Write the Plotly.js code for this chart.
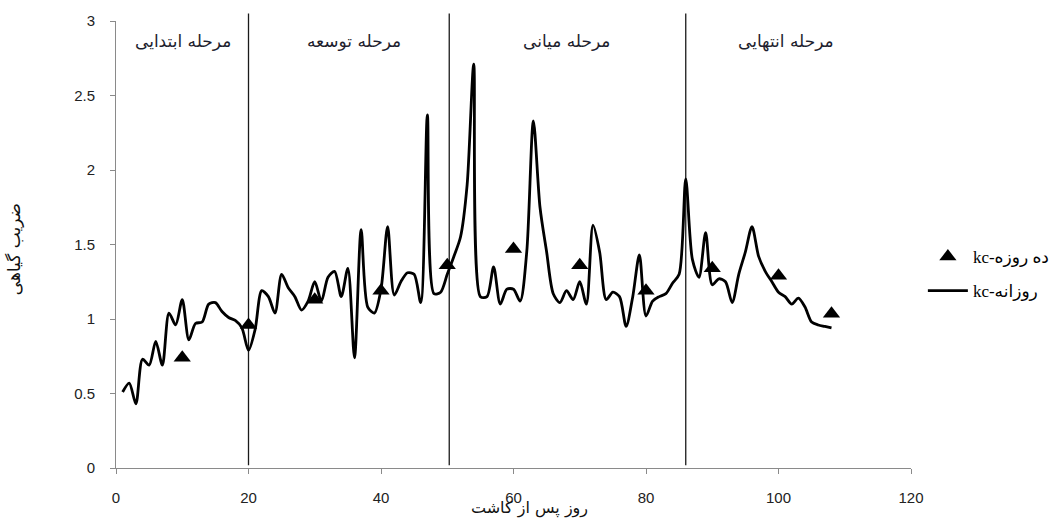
<!DOCTYPE html>
<html>
<head>
<meta charset="utf-8">
<script src="https://cdn.plot.ly/plotly-3.0.1.min.js"></script>
<style>html,body{margin:0;padding:0;background:#fff;}#chart{width:1062px;height:521px;}</style>
</head>
<body>
<div id="chart"></div>
<script>
// daily kc (days after planting 1..108)
const dailyDays = [];
for (let d = 1; d <= 108; d++) dailyDays.push(d);
const dailyKc = [
  0.51, 0.57, 0.43, 0.73, 0.69, 0.85, 0.69, 1.04, 0.96, 1.13,
  0.86, 0.97, 0.98, 1.10, 1.11, 1.05, 1.01, 0.99, 0.94, 0.79,
  0.93, 1.19, 1.15, 1.04, 1.30, 1.21, 1.15, 1.06, 1.12, 1.25,
  1.12, 1.28, 1.32, 1.15, 1.34, 0.74, 1.60, 1.08, 1.04, 1.20,
  1.62, 1.16, 1.25, 1.31, 1.30, 1.11, 2.37, 1.17, 1.18, 1.30,
  1.42, 1.55, 1.90, 2.71, 1.15, 1.15, 1.35, 1.10, 1.20, 1.20,
  1.12, 1.45, 2.33, 1.75, 1.45, 1.17, 1.11, 1.19, 1.13, 1.25,
  1.10, 1.63, 1.45, 1.13, 1.18, 1.15, 0.95, 1.15, 1.43, 1.02,
  1.12, 1.15, 1.17, 1.24, 1.30, 1.94, 1.40, 1.28, 1.58, 1.23,
  1.27, 1.25, 1.11, 1.30, 1.45, 1.62, 1.42, 1.32, 1.25, 1.18,
  1.15, 1.10, 1.14, 1.08, 0.98, 0.96, 0.95, 0.94
];
// ten-day kc
const tenDayDays = [10, 20, 30, 40, 50, 60, 70, 80, 90, 100, 108];
const tenDayKc = [0.74, 0.96, 1.13, 1.19, 1.36, 1.47, 1.36, 1.19, 1.34, 1.29, 1.035];
// growth stages
const stageBounds = [20, 50.3, 86];
const stageNames = ['مرحله ابتدایی', 'مرحله توسعه', 'مرحله میانی', 'مرحله انتهایی'];
const stageLabelX = [10.15, 35.95, 67.98, 101.06];
const seriesNames = ['kc-ده روزه', 'kc-روزانه'];
const xTitle = 'روز پس از کاشت';
const yTitle = 'ضریب گیاهی';
const xTicks = [0, 20, 40, 60, 80, 100, 120];
const yTicks = [0, 0.5, 1, 1.5, 2, 2.5, 3];
const yTickText = ['0', '0.5', '1', '1.5', '2', '2.5', '3'];

const persianFont = 'DejaVu Sans, sans-serif';

const traces = [
  {
    x: dailyDays, y: dailyKc, type: 'scatter', mode: 'lines',
    name: seriesNames[1], legendgroup: 'b', legendrank: 2,
    line: {color: '#000', width: 2.8, shape: 'spline', smoothing: 0.8},
    hoverinfo: 'x+y'
  },
  {
    x: tenDayDays, y: tenDayKc, type: 'scatter', mode: 'markers',
    name: seriesNames[0], legendgroup: 'a', legendrank: 1,
    marker: {symbol: 'triangle-up', size: 15, color: '#000'},
    cliponaxis: false
  }
];

const shapes = stageBounds.map(b => ({
  type: 'line', xref: 'x', yref: 'paper', x0: b, x1: b, y0: 0.006, y1: 1.017,
  line: {color: '#1a1a1a', width: 1.3}, layer: 'below'
}));

const annotations = stageNames.map((s, i) => ({
  x: stageLabelX[i], y: 2.865, xref: 'x', yref: 'y', text: s, showarrow: false,
  font: {family: persianFont, size: 17, color: '#1e1e2e'}, xanchor: 'center', yanchor: 'middle'
}));
annotations.push({
  x: 0.52, y: -0.09, xref: 'paper', yref: 'paper', text: xTitle, showarrow: false,
  font: {family: persianFont, size: 16, color: '#111'}, xanchor: 'center', yanchor: 'middle'
});
annotations.push({
  x: -0.128, y: 0.49, xref: 'paper', yref: 'paper', text: yTitle, showarrow: false, textangle: -90,
  font: {family: persianFont, size: 17, color: '#111'}, xanchor: 'center', yanchor: 'middle'
});

const layout = {
  width: 1062, height: 521,
  margin: {l: 116, r: 151, t: 21, b: 53, autoexpand: false},
  paper_bgcolor: '#fff', plot_bgcolor: '#fff',
  showlegend: true,
  legend: {
    xref: 'container', yref: 'container',
    x: 0.869, y: 0.474, xanchor: 'left', yanchor: 'middle',
    font: {family: 'Liberation Serif, DejaVu Sans, serif', size: 17, color: '#000'},
    tracegroupgap: 9, bgcolor: 'rgba(0,0,0,0)', itemwidth: 40
  },
  xaxis: {
    range: [0, 120], tickvals: xTicks, ticktext: xTicks.map(String),
    showgrid: false, zeroline: false, showline: true, linecolor: '#8a8a8a', linewidth: 1,
    ticks: 'outside', ticklen: 5, tickcolor: '#8a8a8a', ticklabelstandoff: 11,
    tickfont: {family: 'Liberation Sans, Arial, sans-serif', size: 15, color: '#222'}
  },
  yaxis: {
    range: [0, 3], tickvals: yTicks, ticktext: yTickText,
    showgrid: false, zeroline: false, showline: true, linecolor: '#8a8a8a', linewidth: 1,
    ticks: 'outside', ticklen: 5, tickcolor: '#8a8a8a', ticklabelstandoff: 12,
    tickfont: {family: 'Liberation Sans, Arial, sans-serif', size: 15, color: '#222'}
  },
  shapes: shapes,
  annotations: annotations
};

Plotly.newPlot('chart', traces, layout, {displayModeBar: false, staticPlot: true});
</script>
</body>
</html>
